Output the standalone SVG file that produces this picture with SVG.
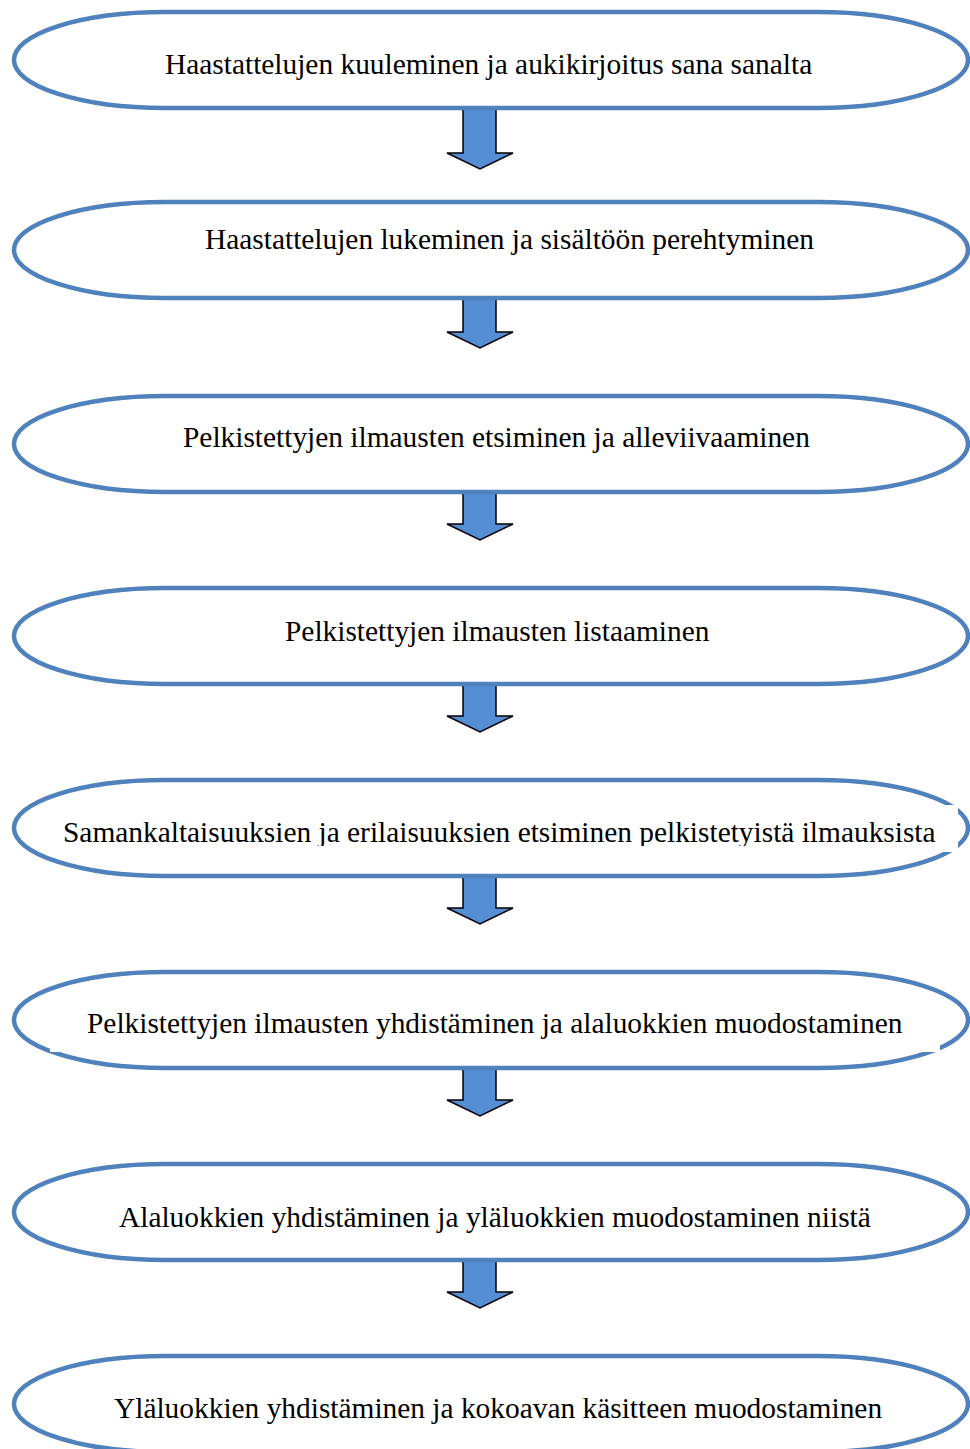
<svg xmlns="http://www.w3.org/2000/svg" width="970" height="1449" viewBox="0 0 970 1449">
<style>
.n{fill:#fff;stroke:#4F81BD;stroke-width:4.5}
.t{font-family:"Liberation Serif","Times New Roman",serif;font-size:29.4px;fill:#000}
.a{fill:#558ED5;stroke:#000;stroke-width:1.5;stroke-linejoin:miter}
.w{fill:#fff}
</style>
<defs>
<path id="cap" d="M165,-48 H818 A150,48 0 0 1 818,48 H165 A151,48 0 0 1 165,-48 Z"/>
<clipPath id="c5"><rect x="40" y="805" width="918" height="41"/></clipPath>
</defs>
<g id="connectors">
<path class="a" d="M463,108 V153 H447 L480,169 L513,153 H496 V108 Z"/>
<path class="a" d="M463,297 V332 H447 L480,348 L513,332 H496 V297 Z"/>
<path class="a" d="M463,492 V524 H447 L480,540 L513,524 H496 V492 Z"/>
<path class="a" d="M463,684 V716 H447 L480,732 L513,716 H496 V684 Z"/>
<path class="a" d="M463,876 V908 H447 L480,924 L513,908 H496 V876 Z"/>
<path class="a" d="M463,1068 V1100 H447 L480,1116 L513,1100 H496 V1068 Z"/>
<path class="a" d="M463,1260 V1292 H447 L480,1308 L513,1292 H496 V1260 Z"/>
</g>
<g id="node1">
<use href="#cap" class="n" transform="translate(0,60)"/>
<text class="t" x="165" y="74">Haastattelujen kuuleminen ja aukikirjoitus sana sanalta</text>
</g>
<g id="node2">
<use href="#cap" class="n" transform="translate(0,250)"/>
<rect class="w" x="130" y="214" width="780" height="60"/>
<text class="t" x="205" y="249">Haastattelujen lukeminen ja sisältöön perehtyminen</text>
</g>
<g id="node3">
<use href="#cap" class="n" transform="translate(0,444)"/>
<text class="t" x="183" y="447">Pelkistettyjen ilmausten etsiminen ja alleviivaaminen</text>
</g>
<g id="node4">
<use href="#cap" class="n" transform="translate(0,636)"/>
<text class="t" x="285" y="641">Pelkistettyjen ilmausten listaaminen</text>
</g>
<g id="node5">
<use href="#cap" class="n" transform="translate(0,828)"/>
<rect class="w" x="40" y="805" width="918" height="47"/>
<text class="t" x="63" y="842" clip-path="url(#c5)">Samankaltaisuuksien ja erilaisuuksien etsiminen pelkistetyistä ilmauksista</text>
</g>
<g id="node6">
<use href="#cap" class="n" transform="translate(0,1020)"/>
<rect class="w" x="50" y="996" width="890" height="56"/>
<text class="t" x="87" y="1033">Pelkistettyjen ilmausten yhdistäminen ja alaluokkien muodostaminen</text>
</g>
<g id="node7">
<use href="#cap" class="n" transform="translate(0,1212)"/>
<text class="t" x="119" y="1227">Alaluokkien yhdistäminen ja yläluokkien muodostaminen niistä</text>
</g>
<g id="node8">
<use href="#cap" class="n" transform="translate(0,1404)"/>
<text class="t" x="114" y="1418">Yläluokkien yhdistäminen ja kokoavan käsitteen muodostaminen</text>
</g>
</svg>
